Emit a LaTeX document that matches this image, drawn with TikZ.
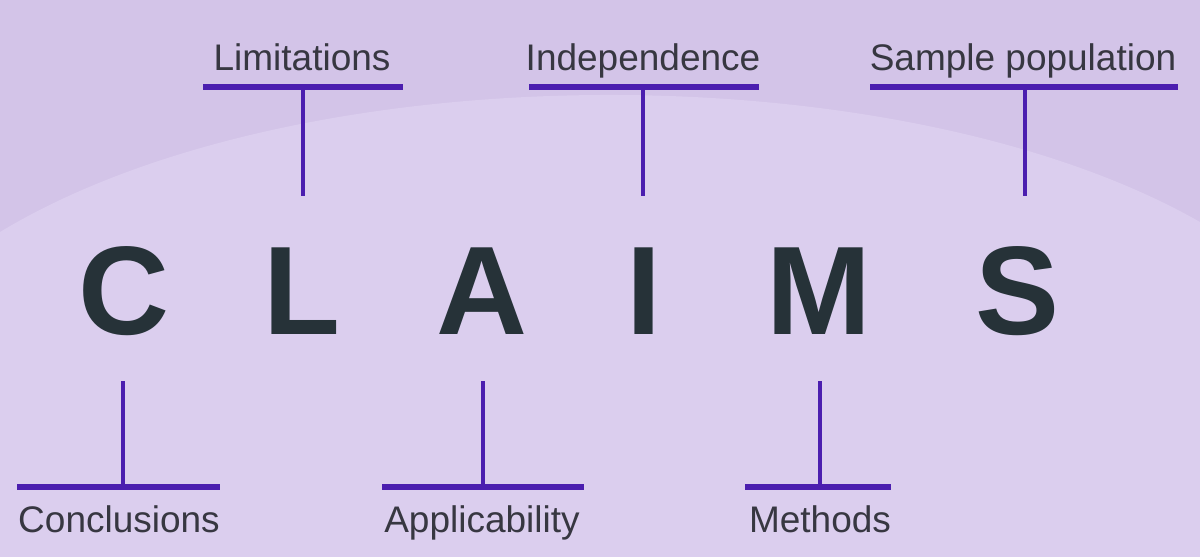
\documentclass[tikz,border=0pt]{standalone}
\usepackage{fontspec}
\setmainfont{Liberation Sans}
\definecolor{bgdark}{RGB}{211,196,232}
\definecolor{bglight}{RGB}{219,206,238}
\definecolor{linec}{RGB}{75,30,175}
\definecolor{letterc}{RGB}{38,50,56}
\definecolor{labelc}{RGB}{55,55,65}
\begin{document}
\begin{tikzpicture}[x=0.5pt,y=-0.5pt,
  bigletter/.style={font=\fontsize{63}{63}\selectfont\bfseries, text=letterc, inner sep=0, anchor=base},
  lab/.style={font=\fontsize{18.5}{18.5}\selectfont, text=labelc, inner sep=0, anchor=base},
  bar/.style={draw=linec, line width=3pt},
  stem/.style={draw=linec, line width=1.8pt}]
\useasboundingbox (0,0) rectangle (1200,557);
\fill[bgdark] (0,0) rectangle (1200,557);
\fill[bglight] (0,232) .. controls (300,51) and (900,51) .. (1200,222) -- (1200,557) -- (0,557) -- cycle;

% big letters
\node[bigletter] (C) at (124,334) {C};
\node[bigletter] (L) at (302,334) {L};
\node[bigletter] (A) at (482,334) {A};
\node[bigletter] (I) at (644,334) {I};
\node[bigletter] (M) at (819,334) {M};
\node[bigletter] (S) at (1018,334) {S};

% top labels
\node[lab] (lim) at (302,70) {Limitations};
\node[lab] (ind) at (643,70) {Independence};
\node[lab] (sam) at (1023,70) {Sample population};
% bottom labels
\node[lab] (con) at (119,532) {Conclusions};
\node[lab] (app) at (482,532) {Applicability};
\node[lab] (met) at (820,532) {Methods};

% top connectors
\coordinate (limL) at (203,87); \coordinate (limR) at (403,87);
\coordinate (limM) at (303,87); \coordinate (limE) at (303,196);
\coordinate (indL) at (529,87); \coordinate (indR) at (759,87);
\coordinate (indM) at (643,87); \coordinate (indE) at (643,196);
\coordinate (samL) at (870,87); \coordinate (samR) at (1178,87);
\coordinate (samM) at (1025,87); \coordinate (samE) at (1025,196);
\draw[bar] (limL) -- (limR); \draw[stem] (limM) -- (limE);
\draw[bar] (indL) -- (indR); \draw[stem] (indM) -- (indE);
\draw[bar] (samL) -- (samR); \draw[stem] (samM) -- (samE);

% bottom connectors
\coordinate (conL) at (17,487); \coordinate (conR) at (220,487);
\coordinate (conM) at (123,487); \coordinate (conE) at (123,381);
\coordinate (appL) at (382,487); \coordinate (appR) at (584,487);
\coordinate (appM) at (483,487); \coordinate (appE) at (483,381);
\coordinate (metL) at (745,487); \coordinate (metR) at (891,487);
\coordinate (metM) at (820,487); \coordinate (metE) at (820,381);
\draw[bar] (conL) -- (conR); \draw[stem] (conM) -- (conE);
\draw[bar] (appL) -- (appR); \draw[stem] (appM) -- (appE);
\draw[bar] (metL) -- (metR); \draw[stem] (metM) -- (metE);
\end{tikzpicture}
\end{document}
